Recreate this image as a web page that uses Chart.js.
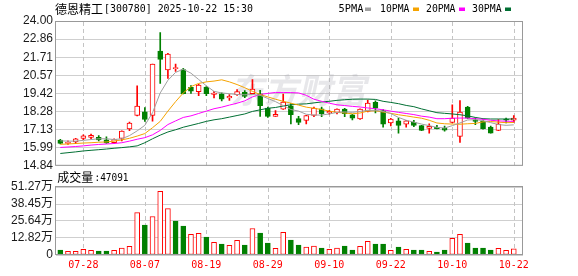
<!DOCTYPE html>
<html><head><meta charset="utf-8">
<script src="https://cdn.jsdelivr.net/npm/chart.js@4.4.0/dist/chart.umd.min.js"></script>
<style>
html,body{margin:0;padding:0;background:#fff;width:578px;height:276px;overflow:hidden;}
canvas{position:absolute;left:0;}
#p{top:0;}
#v{top:168px;}
</style></head><body>
<canvas id="p" width="578" height="176"></canvas>
<canvas id="v" width="578" height="108"></canvas>
<script>
const dates = ['07-23','07-24','07-25','07-28','07-29','07-30','07-31','08-01','08-04','08-05',
'08-06','08-07','08-08','08-11','08-12','08-13','08-14','08-15','08-18','08-19',
'08-20','08-21','08-22','08-25','08-26','08-27','08-28','08-29','09-01','09-02',
'09-03','09-04','09-05','09-08','09-09','09-10','09-11','09-12','09-15','09-16',
'09-17','09-18','09-19','09-22','09-23','09-24','09-25','09-26','09-29','09-30',
'10-09','10-10','10-13','10-14','10-15','10-16','10-17','10-20','10-21','10-22'];
const xTickLabels = ['07-28','08-07','08-19','08-29','09-10','09-22','10-10','10-22'];
const open  = [16.47,16.26,16.35,16.57,16.64,16.64,16.49,16.30,16.57,17.17,
18.03,18.26,18.03,22.10,20.90,20.98,20.92,19.80,19.53,19.82,
19.36,19.40,19.13,19.34,19.48,19.40,19.40,18.49,17.97,18.43,
18.64,17.82,17.71,18.03,18.45,18.18,18.22,18.43,18.07,17.80,
18.28,18.85,18.34,17.55,17.69,17.48,17.59,17.38,17.21,17.27,
17.22,17.59,16.70,18.56,17.75,17.65,17.29,17.08,17.80,17.73];
const high  = [16.52,16.42,16.58,16.80,16.85,16.75,16.68,16.55,17.06,17.60,
19.90,18.52,21.28,23.26,21.95,21.28,21.00,19.92,20.00,19.85,
19.55,19.45,19.35,19.66,19.60,20.29,19.62,18.55,18.33,19.38,
18.77,17.97,18.03,18.55,18.55,18.35,18.45,18.48,18.10,18.45,
19.00,18.95,18.40,17.85,17.86,17.72,17.72,17.40,17.50,17.40,
17.35,18.70,18.96,18.60,17.88,17.75,17.35,17.76,17.86,18.01];
const low   = [16.22,16.20,16.24,16.50,16.55,16.42,16.26,16.25,16.42,17.07,
18.00,17.65,17.67,20.05,20.37,20.81,19.38,19.42,19.27,19.28,
19.14,18.95,18.97,19.30,19.15,19.38,17.97,17.90,17.97,18.40,
17.49,17.44,17.49,17.95,17.95,18.10,18.12,17.95,17.75,17.78,
18.25,18.18,17.29,17.36,16.91,17.29,17.32,17.06,16.91,17.17,
17.03,17.55,16.32,17.84,17.44,17.15,16.90,17.06,17.55,17.59];
const close = [16.26,16.32,16.55,16.73,16.76,16.47,16.28,16.50,17.04,17.55,
18.62,17.77,21.28,21.57,21.91,21.06,19.40,19.56,19.95,19.40,
19.44,19.06,19.23,19.53,19.23,19.70,18.64,17.97,18.10,18.87,
18.07,17.59,18.01,18.49,18.13,18.28,18.43,18.13,17.86,18.43,
18.81,18.49,17.48,17.80,17.39,17.69,17.39,17.08,17.34,17.19,
17.10,17.86,18.24,17.86,17.65,17.19,16.91,17.48,17.72,17.86];
const prevClose = 16.40;
const ma5  = [16.42,16.40,16.40,16.45,16.50,16.55,16.55,16.50,16.55,16.75,
17.05,17.40,18.20,19.45,20.25,20.75,20.95,20.70,20.30,19.90,
19.55,19.45,19.40,19.35,19.33,19.35,19.30,19.10,18.90,18.65,
18.40,18.30,18.10,18.05,18.05,18.12,18.22,18.25,18.22,18.28,
18.35,18.35,18.28,18.15,17.90,17.72,17.60,17.48,17.38,17.27,
17.23,17.38,17.55,17.74,17.76,17.70,17.57,17.45,17.40,17.43];
const ma10 = [16.20,16.22,16.25,16.28,16.30,16.33,16.35,16.40,16.48,16.58,
16.72,16.88,17.25,17.65,18.30,18.90,19.45,19.85,20.05,20.15,
20.20,20.28,20.15,19.98,19.78,19.55,19.35,19.20,19.05,18.92,
18.80,18.68,18.55,18.48,18.40,18.30,18.22,18.18,18.13,18.18,
18.30,18.32,18.24,18.16,18.07,18.00,17.92,17.85,17.72,17.55,
17.50,17.48,17.47,17.50,17.52,17.62,17.64,17.60,17.57,17.58];
const ma20 = [16.00,16.03,16.06,16.10,16.15,16.19,16.22,16.25,16.30,16.40,
16.52,16.62,16.80,17.08,17.45,17.68,17.90,18.00,18.15,18.30,
18.45,18.55,18.68,18.80,18.95,19.20,19.35,19.42,19.48,19.48,
19.47,19.45,19.30,19.05,18.92,18.80,18.70,18.65,18.60,18.56,
18.50,18.45,18.38,18.30,18.22,18.15,18.08,17.98,17.92,17.82,
17.82,17.85,17.86,17.86,17.82,17.78,17.72,17.68,17.66,17.65];
const ma30 = [15.62,15.67,15.72,15.78,15.82,15.86,15.90,15.95,15.99,16.04,
16.10,16.30,16.55,16.78,16.98,17.12,17.28,17.40,17.52,17.65,
17.75,17.82,17.92,18.02,18.12,18.28,18.38,18.48,18.53,18.62,
18.70,18.74,18.76,18.82,18.88,18.92,18.98,19.02,19.05,19.06,
19.06,19.04,18.92,18.85,18.77,18.66,18.58,18.44,18.32,18.20,
18.16,18.12,18.07,18.00,17.90,17.82,17.80,17.80,17.80,17.80];
const volume = [3.75,2.75,2.75,4.25,3.5,3.0,3.0,3.5,5.25,6.5,
32.0,22.5,29.0,48.0,35.0,25.5,21.75,15.5,16.25,13.5,
9.5,8.25,7.25,11.0,7.5,20.0,16.5,9.0,5.0,17.0,
11.25,7.5,6.0,6.75,5.25,4.25,5.25,6.75,3.75,6.5,
10.25,8.25,8.25,3.5,6.0,4.25,3.75,3.75,2.75,2.25,
3.75,12.5,15.5,9.0,5.25,5.25,3.75,5.0,3.5,4.7091];
const priceTicks = [14.84,15.99,17.13,18.28,19.42,20.57,21.71,22.86,24.00];
const volTicks = [0,12.82,25.64,38.45,51.27];
const titleName = '德恩精工';
const titleRest = '[300780] 2025-10-22 15:30';
const maNames = ['5PMA','10PMA','20PMA','30PMA'];
const volLabel = '成交量';
const volValueText = ':47091';
const watermark = '东方财富';

const RED = '#ff0000', GREEN = '#008000';
const MA_COLORS = ['#a0a0a0','#f5a300','#ff00ff','#006f33'];
const tickIdx = xTickLabels.map(l => dates.indexOf(l));
const xMin = -0.56, xMax = 60.2;

const up = close.map((c,i) => c >= open[i]);
const volUp = close.map((c,i) => c >= (i === 0 ? prevClose : close[i-1]));

function xScale(showLabels) {
  return {
    type:'linear', min:xMin, max:xMax, offset:false,
    afterBuildTicks: s => { s.ticks = tickIdx.map(v => ({value:v})); },
    afterFit: s => { s.height = showLabels ? 21 : 0; },
    ticks: {
      display: showLabels, autoSkip:false, maxRotation:0, padding:4,
      color: RED, font:{family:'DejaVu Sans Mono', size:10},
      callback: v => dates[v] || ''
    },
    grid: { display:false, drawTicks:false, offset:false },
    border: { display:false }
  };
}

function drawVGrid(chart) {
  const ctx = chart.ctx, a = chart.chartArea, xs = chart.scales.x;
  ctx.save();
  ctx.strokeStyle = '#c4c4c4'; ctx.lineWidth = 1; ctx.setLineDash([4,3]);
  tickIdx.forEach(i => {
    const px = Math.round(xs.getPixelForValue(i)) + 0.5;
    ctx.beginPath(); ctx.moveTo(px, a.top + 1); ctx.lineTo(px, a.bottom); ctx.stroke();
  });
  ctx.restore();
}

const priceDecor = {
  id:'priceDecor',
  beforeDatasetsDraw(chart) {
    drawVGrid(chart);
    const ctx = chart.ctx;
    ctx.save();
    ctx.setTransform(1,0,-0.22,1,0,0);
    ctx.font = 'bold 34px "Noto Sans CJK SC"';
    ctx.fillStyle = 'rgba(170,170,180,0.28)';
    ctx.textBaseline = 'middle';
    ctx.fillText(watermark, 233 + 0.22*90, 90, 146);
    ctx.restore();
  },
  afterDraw(chart) {
    const ctx = chart.ctx, a = chart.chartArea;
    ctx.save();
    ctx.strokeStyle = '#999'; ctx.lineWidth = 1;
    ctx.strokeRect(a.left - 0.5, a.top + 0.5, a.right - a.left, a.bottom - a.top - 1);
    ctx.fillStyle = '#000'; ctx.textBaseline = 'middle';
    ctx.font = '12px "Noto Sans CJK SC"';
    ctx.fillText(titleName, 55, 9, 49);
    ctx.font = '11px "DejaVu Sans Mono"';
    ctx.fillText(titleRest, 104, 9.5, 149);
    const lx = [338.6, 380, 426, 472], lw = [24.7, 29.4, 29.5, 29.6], sx = [365, 413, 459, 505];
    for (let k = 0; k < 4; k++) {
      ctx.fillStyle = '#000';
      ctx.fillText(maNames[k], lx[k], 9.5, lw[k]);
      ctx.fillStyle = MA_COLORS[k];
      ctx.fillRect(sx[k], 7.5, 6, 3.5);
    }
    ctx.restore();
  }
};

const volDecor = {
  id:'volDecor',
  beforeDatasetsDraw(chart) { drawVGrid(chart); },
  afterDraw(chart) {
    const ctx = chart.ctx, a = chart.chartArea;
    ctx.save();
    ctx.strokeStyle = '#999'; ctx.lineWidth = 1;
    ctx.strokeRect(a.left - 0.5, a.top - 0.5, a.right - a.left, a.bottom - a.top);
    ctx.fillStyle = '#000'; ctx.textBaseline = 'middle';
    ctx.font = '12px "Noto Sans CJK SC"';
    ctx.fillText(volLabel, 57.3, 9.7, 37);
    ctx.font = '11px "DejaVu Sans Mono"';
    ctx.fillText(volValueText, 94.5, 10, 34);
    ctx.restore();
  }
};

const maSets = [ma5, ma10, ma20, ma30].map((arr,k) => ({
  type:'line', data: arr.map((v,i) => ({x:i, y:v})),
  borderColor: MA_COLORS[k], borderWidth:1, pointRadius:0, tension:0, order:0
}));

new Chart(document.getElementById('p'), {
  data: {
    datasets: [
      ...maSets,
      { type:'bar', data: open.map((o,i) => ({x:i, y:[o, close[i]]})),
        backgroundColor: up.map(u => u ? '#ffffff' : GREEN),
        borderColor: up.map(u => u ? RED : GREEN),
        borderWidth:1, borderSkipped:false, barThickness:5, minBarLength:1, grouped:false, order:1 },
      { type:'bar', data: low.map((l,i) => ({x:i, y:[l, high[i]]})),
        backgroundColor: up.map(u => u ? RED : GREEN),
        borderWidth:0, barThickness:1, grouped:false, order:2 }
    ]
  },
  options: {
    responsive:false, animation:false, devicePixelRatio:1,
    layout:{ padding:{ top:21, right:55, bottom:10, left:0 } },
    plugins:{ legend:{display:false}, tooltip:{enabled:false} },
    scales: {
      x: xScale(false),
      y: {
        type:'linear', min:14.84, max:24.00,
        afterBuildTicks: s => { s.ticks = priceTicks.map(v => ({value:v})); },
        afterFit: s => { s.width = 56; },
        ticks:{ callback: v => Number(v).toFixed(2), color:'#1a1a1a', padding:3, autoSkip:false,
          font:{family:'Liberation Sans', size:12} },
        grid:{ color:'#cfcfcf', drawTicks:false, lineWidth:1 },
        border:{ display:false }
      }
    }
  },
  plugins:[priceDecor]
});

new Chart(document.getElementById('v'), {
  data: {
    datasets: [
      { type:'bar', data: volume.map((v,i) => ({x:i, y:v})),
        backgroundColor: volUp.map(u => u ? '#ffffff' : GREEN),
        borderColor: volUp.map(u => u ? RED : GREEN),
        borderWidth:1, borderSkipped:false, barThickness:5, grouped:false }
    ]
  },
  options: {
    responsive:false, animation:false, devicePixelRatio:1,
    layout:{ padding:{ top:19, right:55, bottom:0, left:0 } },
    plugins:{ legend:{display:false}, tooltip:{enabled:false} },
    scales: {
      x: xScale(true),
      y: {
        type:'linear', min:0, max:51.27,
        afterBuildTicks: s => { s.ticks = volTicks.map(v => ({value:v})); },
        afterFit: s => { s.width = 56; },
        ticks:{ callback: v => v === 0 ? '0' : Number(v).toFixed(2) + '万', color:'#1a1a1a', padding:3, autoSkip:false,
          font:{family:'"Liberation Sans", "Noto Sans CJK SC"', size:12} },
        grid:{ color:'#cfcfcf', drawTicks:false, lineWidth:1 },
        border:{ display:false }
      }
    }
  },
  plugins:[volDecor]
});
</script>
</body></html>
